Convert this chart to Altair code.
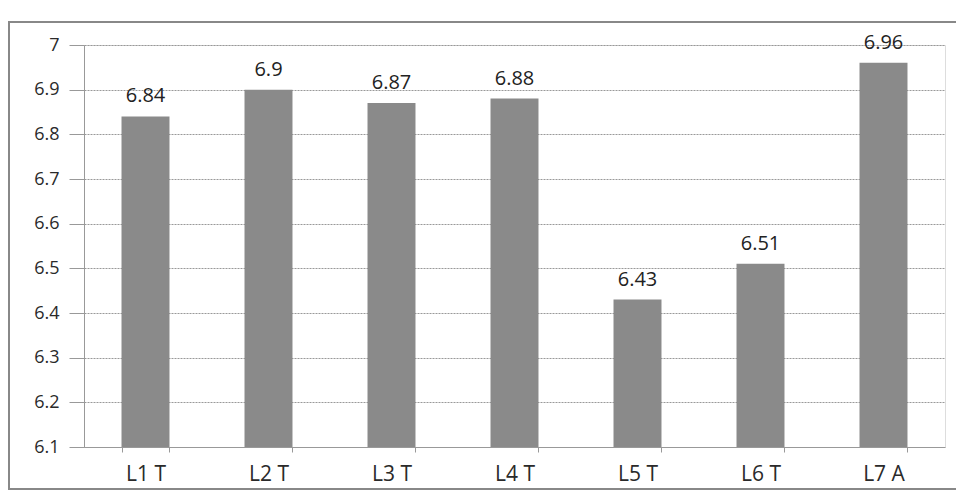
import altair as alt
import pandas as pd

categories = ["L1 T", "L2 T", "L3 T", "L4 T", "L5 T", "L6 T", "L7 A"]
values = [6.84, 6.90, 6.87, 6.88, 6.43, 6.51, 6.96]
y_ticks = [6.1, 6.2, 6.3, 6.4, 6.5, 6.6, 6.7, 6.8, 6.9, 7.0]
y_min = 6.1

df = pd.DataFrame({"cat": categories, "val": values, "base": [y_min] * len(values)})

FONT = "Open Sans"
W, H = 861, 402

x_enc = alt.X("cat:N", sort=categories, title=None,
              scale=alt.Scale(paddingInner=0.61, paddingOuter=0.305),
              axis=alt.Axis(labelAngle=0, labelFontSize=21, labelFont=FONT,
                            labelColor="#2a2a2a", labelPadding=11,
                            tickBand="extent", tickSize=5, tickColor="#999",
                            domainColor="#999", grid=False))
y_enc = alt.Y("val:Q", title=None,
              scale=alt.Scale(domain=[6.1, 7.0], zero=False, nice=False),
              axis=alt.Axis(values=y_ticks, format="~g", labelFontSize=18,
                            labelFont=FONT, labelColor="#2a2a2a", labelPadding=10,
                            tickSize=15, tickColor="#999", domainColor="#999",
                            grid=True, gridColor="#999", gridDash=[2, 1],
                            gridWidth=1))

base = alt.Chart(df).encode(x=x_enc, y=y_enc)

bars = base.mark_bar(color="#8a8a8a").encode(y2="base:Q")

labels = base.mark_text(baseline="alphabetic", dy=-14, fontSize=20,
                        font=FONT, color="#222").encode(
    text=alt.Text("val:Q", format="~g"))

frame = alt.Chart(df).mark_rect(fill=None, stroke="#888", strokeWidth=1.5,
                                clip=False).encode(
    x=alt.value(-75), x2=alt.value(W + 40),
    y=alt.value(-23), y2=alt.value(H + 42))

chart = alt.layer(bars, labels, frame).properties(
    width=W, height=H,
    padding={"left": 76, "top": 37, "right": 11, "bottom": 49},
    autosize=alt.AutoSizeParams(type="none"),
).configure_view(stroke=None).configure(background="white")

chart.save("out.html", embed_options={"renderer": "svg", "actions": False})
